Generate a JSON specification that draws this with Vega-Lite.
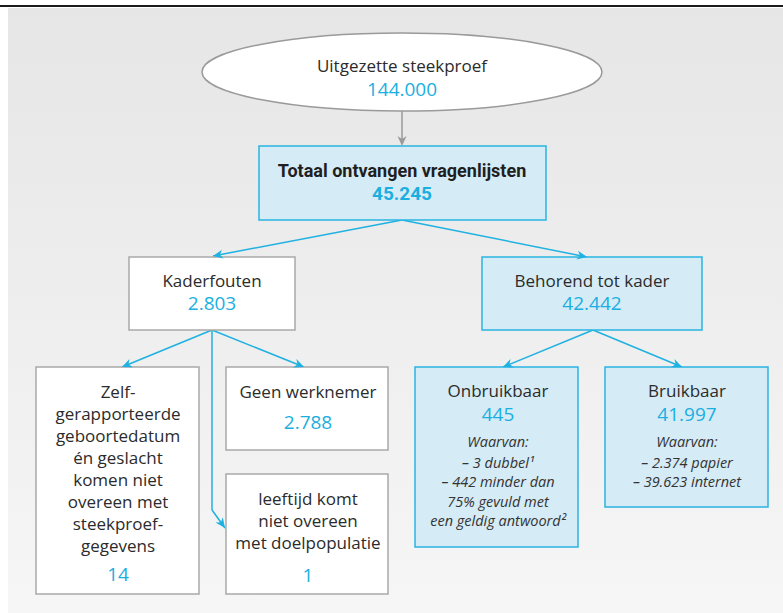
{
  "$schema": "https://vega.github.io/schema/vega-lite/v6.json",
  "width": 783,
  "height": 613,
  "autosize": {"type": "none"},
  "padding": 0,
  "background": "#ffffff",
  "config": {"view": {"stroke": null}, "text": {"font": "Open Sans"}},
  "datasets": {
    "frame": [{"x": 8, "x2": 783, "y": 8, "y2": 613}],
    "topline": [{"x": 0, "x2": 783, "y": 6}],
    "lines": [
      {"kind": "grey", "x": 402, "y": 111, "x2": 402, "y2": 144},
      {"kind": "blue", "x": 402, "y": 220, "x2": 213, "y2": 256},
      {"kind": "blue", "x": 402, "y": 220, "x2": 587, "y2": 257},
      {"kind": "blue", "x": 212, "y": 330, "x2": 122, "y2": 367},
      {"kind": "blue", "x": 212, "y": 330, "x2": 304, "y2": 367},
      {"kind": "blue", "x": 212, "y": 330, "x2": 212, "y2": 510},
      {"kind": "blue", "x": 212, "y": 510, "x2": 225, "y2": 528},
      {"kind": "blue", "x": 593, "y": 330, "x2": 503, "y2": 367},
      {"kind": "blue", "x": 593, "y": 330, "x2": 682, "y2": 367}
    ],
    "arrows": [
      {"kind": "grey", "x": 402, "y": 146, "angle": 0},
      {"kind": "blue", "x": 213, "y": 256, "angle": 79.2},
      {"kind": "blue", "x": 587, "y": 257, "angle": -78.7},
      {"kind": "blue", "x": 122, "y": 367, "angle": 67.6},
      {"kind": "blue", "x": 304, "y": 367, "angle": -68.1},
      {"kind": "blue", "x": 225, "y": 528, "angle": -35.8},
      {"kind": "blue", "x": 503, "y": 367, "angle": 67.6},
      {"kind": "blue", "x": 682, "y": 367, "angle": -67.4}
    ],
    "ellipse": [{"x": 402, "y": 72}],
    "boxes": [
      {"kind": "blue", "x": 259, "x2": 546, "y": 146, "y2": 220},
      {"kind": "white", "x": 129, "x2": 295, "y": 257, "y2": 330},
      {"kind": "blue", "x": 482, "x2": 702, "y": 257, "y2": 330},
      {"kind": "white", "x": 36, "x2": 199, "y": 367, "y2": 594},
      {"kind": "white", "x": 226, "x2": 388, "y": 367, "y2": 450},
      {"kind": "white", "x": 226, "x2": 388, "y": 474, "y2": 594},
      {"kind": "blue", "x": 415, "x2": 578, "y": 367, "y2": 547},
      {"kind": "blue", "x": 605, "x2": 768, "y": 367, "y2": 507}
    ],
    "texts": [
      {"role": "label", "x": 402, "y": 67, "text": "Uitgezette steekproef"},
      {"role": "number", "x": 402, "y": 90, "text": "144.000"},
      {"role": "title", "x": 402, "y": 172, "text": "Totaal ontvangen vragenlijsten"},
      {"role": "titlenum", "x": 402, "y": 194, "text": "45.245"},
      {"role": "label", "x": 212, "y": 282, "text": "Kaderfouten"},
      {"role": "number", "x": 212, "y": 304, "text": "2.803"},
      {"role": "label", "x": 592, "y": 282, "text": "Behorend tot kader"},
      {"role": "number", "x": 592, "y": 304, "text": "42.442"},
      {"role": "label", "x": 118, "y": 393, "text": "Zelf-"},
      {"role": "label", "x": 118, "y": 415, "text": "gerapporteerde"},
      {"role": "label", "x": 118, "y": 437, "text": "geboortedatum"},
      {"role": "label", "x": 118, "y": 459, "text": "én geslacht"},
      {"role": "label", "x": 118, "y": 481, "text": "komen niet"},
      {"role": "label", "x": 118, "y": 503, "text": "overeen met"},
      {"role": "label", "x": 118, "y": 525, "text": "steekproef-"},
      {"role": "label", "x": 118, "y": 547, "text": "gegevens"},
      {"role": "number", "x": 118, "y": 575, "text": "14"},
      {"role": "label", "x": 308, "y": 393, "text": "Geen werknemer"},
      {"role": "number", "x": 308, "y": 423, "text": "2.788"},
      {"role": "label", "x": 308, "y": 500, "text": "leeftijd komt"},
      {"role": "label", "x": 308, "y": 522, "text": "niet overeen"},
      {"role": "label", "x": 308, "y": 544, "text": "met doelpopulatie"},
      {"role": "number", "x": 308, "y": 576, "text": "1"},
      {"role": "label", "x": 498, "y": 392, "text": "Onbruikbaar"},
      {"role": "number", "x": 498, "y": 415, "text": "445"},
      {"role": "note", "x": 498, "y": 443, "text": "Waarvan:"},
      {"role": "note", "x": 498, "y": 464, "text": "– 3 dubbel¹"},
      {"role": "note", "x": 498, "y": 483, "text": "– 442 minder dan"},
      {"role": "note", "x": 498, "y": 503, "text": "75% gevuld met"},
      {"role": "note", "x": 498, "y": 522, "text": "een geldig antwoord²"},
      {"role": "label", "x": 687, "y": 392, "text": "Bruikbaar"},
      {"role": "number", "x": 687, "y": 415, "text": "41.997"},
      {"role": "note", "x": 687, "y": 443, "text": "Waarvan:"},
      {"role": "note", "x": 687, "y": 464, "text": "– 2.374 papier"},
      {"role": "note", "x": 687, "y": 483, "text": "– 39.623 internet"}
    ]
  },
  "layer": [
    {
      "data": {"name": "frame"},
      "mark": {"type": "rect", "fill": {"gradient": "linear", "x1": 0, "y1": 0, "x2": 0, "y2": 1, "stops": [{"offset": 0, "color": "#e6e6e6"}, {"offset": 1, "color": "#f6f6f6"}]}},
      "encoding": {
        "x": {"field": "x", "type": "quantitative", "scale": {"domain": [0, 783], "nice": false, "zero": false}, "axis": null},
        "x2": {"field": "x2"},
        "y": {"field": "y", "type": "quantitative", "scale": {"domain": [0, 613], "nice": false, "zero": false, "reverse": true}, "axis": null},
        "y2": {"field": "y2"}
      }
    },
    {
      "data": {"name": "topline"},
      "mark": {"type": "rule", "color": "#1a1a1a", "strokeWidth": 2},
      "encoding": {
        "x": {"field": "x", "type": "quantitative", "axis": null},
        "x2": {"field": "x2"},
        "y": {"field": "y", "type": "quantitative", "axis": null}
      }
    },
    {
      "data": {"name": "lines"},
      "mark": {"type": "rule", "strokeWidth": 1.5},
      "encoding": {
        "x": {"field": "x", "type": "quantitative", "axis": null},
        "x2": {"field": "x2"},
        "y": {"field": "y", "type": "quantitative", "axis": null},
        "y2": {"field": "y2"},
        "color": {"field": "kind", "type": "nominal", "scale": {"domain": ["blue", "grey", "white"], "range": ["#1fb1e1", "#9a9a9a", "#ffffff"]}, "legend": null}
      }
    },
    {
      "data": {"name": "ellipse"},
      "mark": {"type": "point", "shape": "M -1 0 A 1 0.195 0 1 1 1 0 A 1 0.195 0 1 1 -1 0 Z", "size": 160000, "filled": true, "fill": "#ffffff", "stroke": "#9a9a9a", "strokeWidth": 1.5, "opacity": 1},
      "encoding": {
        "x": {"field": "x", "type": "quantitative", "axis": null},
        "y": {"field": "y", "type": "quantitative", "axis": null}
      }
    },
    {
      "data": {"name": "boxes"},
      "mark": {"type": "rect", "strokeWidth": 1.5},
      "encoding": {
        "x": {"field": "x", "type": "quantitative", "axis": null},
        "x2": {"field": "x2"},
        "y": {"field": "y", "type": "quantitative", "axis": null},
        "y2": {"field": "y2"},
        "fill": {"field": "kind", "type": "nominal", "scale": {"domain": ["blue", "white"], "range": ["#d5ebf6", "#ffffff"]}, "legend": null},
        "stroke": {"field": "kind", "type": "nominal", "scale": {"domain": ["blue", "white"], "range": ["#2ab5e1", "#a9a9a9"]}, "legend": null}
      }
    },
    {
      "data": {"name": "arrows"},
      "mark": {"type": "point", "shape": "M 0 0 L -0.45 -1 L 0 -0.7 L 0.45 -1 Z", "size": 400, "filled": true, "opacity": 1},
      "encoding": {
        "x": {"field": "x", "type": "quantitative", "axis": null},
        "y": {"field": "y", "type": "quantitative", "axis": null},
        "angle": {"field": "angle", "type": "quantitative", "scale": null},
        "color": {"field": "kind", "type": "nominal", "legend": null}
      }
    },
    {
      "data": {"name": "texts"},
      "transform": [{"filter": "datum.role === 'label'"}],
      "mark": {"type": "text", "fontSize": 17, "fill": "#2b2b2b", "align": "center", "baseline": "middle"},
      "encoding": {
        "x": {"field": "x", "type": "quantitative", "axis": null},
        "y": {"field": "y", "type": "quantitative", "axis": null},
        "text": {"field": "text"}
      }
    },
    {
      "data": {"name": "texts"},
      "transform": [{"filter": "datum.role === 'number'"}],
      "mark": {"type": "text", "fontSize": 19, "fill": "#1aafe0", "align": "center", "baseline": "middle"},
      "encoding": {
        "x": {"field": "x", "type": "quantitative", "axis": null},
        "y": {"field": "y", "type": "quantitative", "axis": null},
        "text": {"field": "text"}
      }
    },
    {
      "data": {"name": "texts"},
      "transform": [{"filter": "datum.role === 'title'"}],
      "mark": {"type": "text", "font": "Roboto", "fontSize": 18, "fontWeight": "bold", "fill": "#1f1f1f", "align": "center", "baseline": "middle"},
      "encoding": {
        "x": {"field": "x", "type": "quantitative", "axis": null},
        "y": {"field": "y", "type": "quantitative", "axis": null},
        "text": {"field": "text"}
      }
    },
    {
      "data": {"name": "texts"},
      "transform": [{"filter": "datum.role === 'titlenum'"}],
      "mark": {"type": "text", "font": "Roboto", "fontSize": 19, "fontWeight": "bold", "fill": "#1aafe0", "align": "center", "baseline": "middle"},
      "encoding": {
        "x": {"field": "x", "type": "quantitative", "axis": null},
        "y": {"field": "y", "type": "quantitative", "axis": null},
        "text": {"field": "text"}
      }
    },
    {
      "data": {"name": "texts"},
      "transform": [{"filter": "datum.role === 'note'"}],
      "mark": {"type": "text", "fontSize": 14.5, "fontStyle": "italic", "fill": "#333333", "align": "center", "baseline": "middle"},
      "encoding": {
        "x": {"field": "x", "type": "quantitative", "axis": null},
        "y": {"field": "y", "type": "quantitative", "axis": null},
        "text": {"field": "text"}
      }
    }
  ]
}
